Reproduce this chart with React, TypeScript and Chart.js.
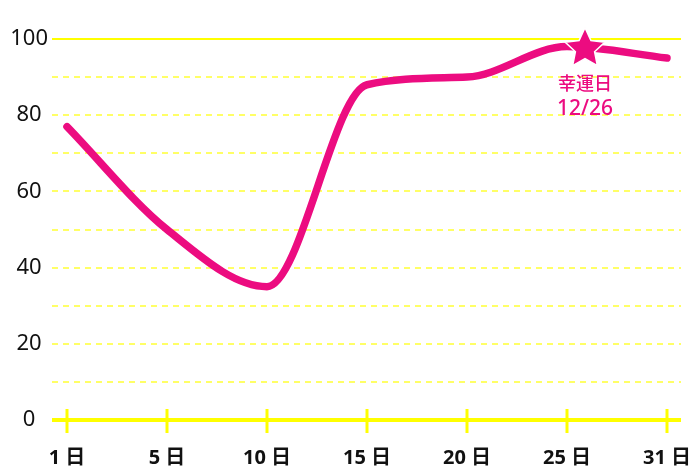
import React, { useEffect, useRef } from "react";
import { Chart, registerables } from "chart.js";

Chart.register(...registerables);

const dayLabels = ["1", "5", "10", "15", "20", "25", "31"];
const values = [77, 50, 35, 88, 90, 98, 95];
const luckyPosition = 5.18;
const luckyValue = 98;
const luckyText = ["幸運日", "12/26"];
const yTickValues = [0, 10, 20, 30, 40, 50, 60, 70, 80, 90, 100];

const PINK = "#ec0c80";
const YELLOW = "#ffff00";
const FONT = '"Noto Sans", "Noto Sans CJK JP", sans-serif';

function drawStar(g: CanvasRenderingContext2D, cx: number, cy: number, R: number) {
  const r = R * 0.48;
  g.beginPath();
  for (let i = 0; i < 10; i++) {
    const rad = i % 2 === 0 ? R : r;
    const a = -Math.PI / 2 + (i * Math.PI) / 5;
    const px = cx + rad * Math.cos(a);
    const py = cy + rad * Math.sin(a);
    if (i === 0) g.moveTo(px, py);
    else g.lineTo(px, py);
  }
  g.closePath();
  g.fillStyle = PINK;
  g.fill();
  g.lineWidth = 1.5;
  g.strokeStyle = "#ffffff";
  g.stroke();
}

export default function App() {
  const ref = useRef<HTMLCanvasElement | null>(null);

  useEffect(() => {
    document.body.style.margin = "0";
    const canvas = ref.current;
    if (!canvas) return;

    const decorations = {
      id: "decorations",
      afterDatasetsDraw(chart: any) {
        const { ctx, scales } = chart;
        const xs = scales.x;
        const ys = scales.y;
        const y0 = ys.getPixelForValue(0);
        ctx.save();
        ctx.strokeStyle = YELLOW;
        ctx.lineWidth = 3;
        dayLabels.forEach((_, i) => {
          const x = Math.round(xs.getPixelForValue(i));
          ctx.beginPath();
          ctx.moveTo(x, y0 - 11);
          ctx.lineTo(x, y0 + 13);
          ctx.stroke();
        });
        const sx = xs.getPixelForValue(luckyPosition);
        const sy = ys.getPixelForValue(luckyValue);
        drawStar(ctx, sx, sy + 2, 21);
        ctx.fillStyle = PINK;
        ctx.textAlign = "center";
        ctx.textBaseline = "middle";
        ctx.font = `500 18px ${FONT}`;
        ctx.fillText(luckyText[0], sx, sy + 38);
        ctx.font = `500 21px ${FONT}`;
        ctx.fillText(luckyText[1], sx, sy + 62);
        ctx.restore();
      },
    };

    const chart = new Chart(canvas, {
      type: "line",
      data: {
        datasets: [
          {
            data: values.map((v, i) => ({ x: i, y: v })),
            borderColor: PINK,
            borderWidth: 7.5,
            borderCapStyle: "round",
            borderJoinStyle: "round",
            cubicInterpolationMode: "monotone",
            pointRadius: 0,
            fill: false,
            clip: false as any,
          },
        ],
      },
      plugins: [decorations],
      options: {
        animation: false,
        responsive: false,
        layout: { padding: { top: 39, right: 19, left: 0, bottom: 0 } },
        plugins: {
          legend: { display: false },
          tooltip: { enabled: false },
        },
        scales: {
          x: {
            type: "linear",
            min: -0.15,
            max: 6.14,
            afterBuildTicks: (s: any) => {
              s.ticks = dayLabels.map((_, i) => ({ value: i }));
            },
            afterFit: (s: any) => {
              s.height = 47;
              s.paddingLeft = 0;
              s.paddingRight = 0;
            },
            grid: { display: false },
            border: { display: false },
            ticks: {
              autoSkip: false,
              maxRotation: 0,
              padding: 18,
              color: "#111111",
              font: { family: FONT, size: 20, weight: "bold" },
              callback: (v: any) => `${dayLabels[Math.round(Number(v))]} 日`,
            },
          },
          y: {
            type: "linear",
            min: 0,
            max: 100,
            afterBuildTicks: (s: any) => {
              s.ticks = yTickValues.map((v) => ({ value: v }));
            },
            afterFit: (s: any) => {
              s.width = 52;
              s.paddingTop = 0;
              s.paddingBottom = 0;
            },
            grid: {
              drawTicks: false,
              color: (c: any) =>
                c.tick && (c.tick.value === 0 || c.tick.value === 100)
                  ? YELLOW
                  : "rgba(255,255,0,0.6)",
              lineWidth: (c: any) => (c.tick && c.tick.value === 0 ? 4 : 2),
            },
            border: {
              display: false,
              dash: (c: any) =>
                c.tick && (c.tick.value === 0 || c.tick.value === 100) ? [] : [6, 5],
            } as any,
            ticks: {
              padding: 4,
              crossAlign: "center",
              color: "#111111",
              font: { family: FONT, size: 22 },
              callback: (v: any) => (Number(v) % 20 === 0 ? String(v) : ""),
            },
          },
        },
      } as any,
    });
    return () => chart.destroy();
  }, []);

  return (
    <div style={{ width: 700, height: 467 }}>
      <canvas ref={ref} width={700} height={467} style={{ display: "block" }} />
    </div>
  );
}
